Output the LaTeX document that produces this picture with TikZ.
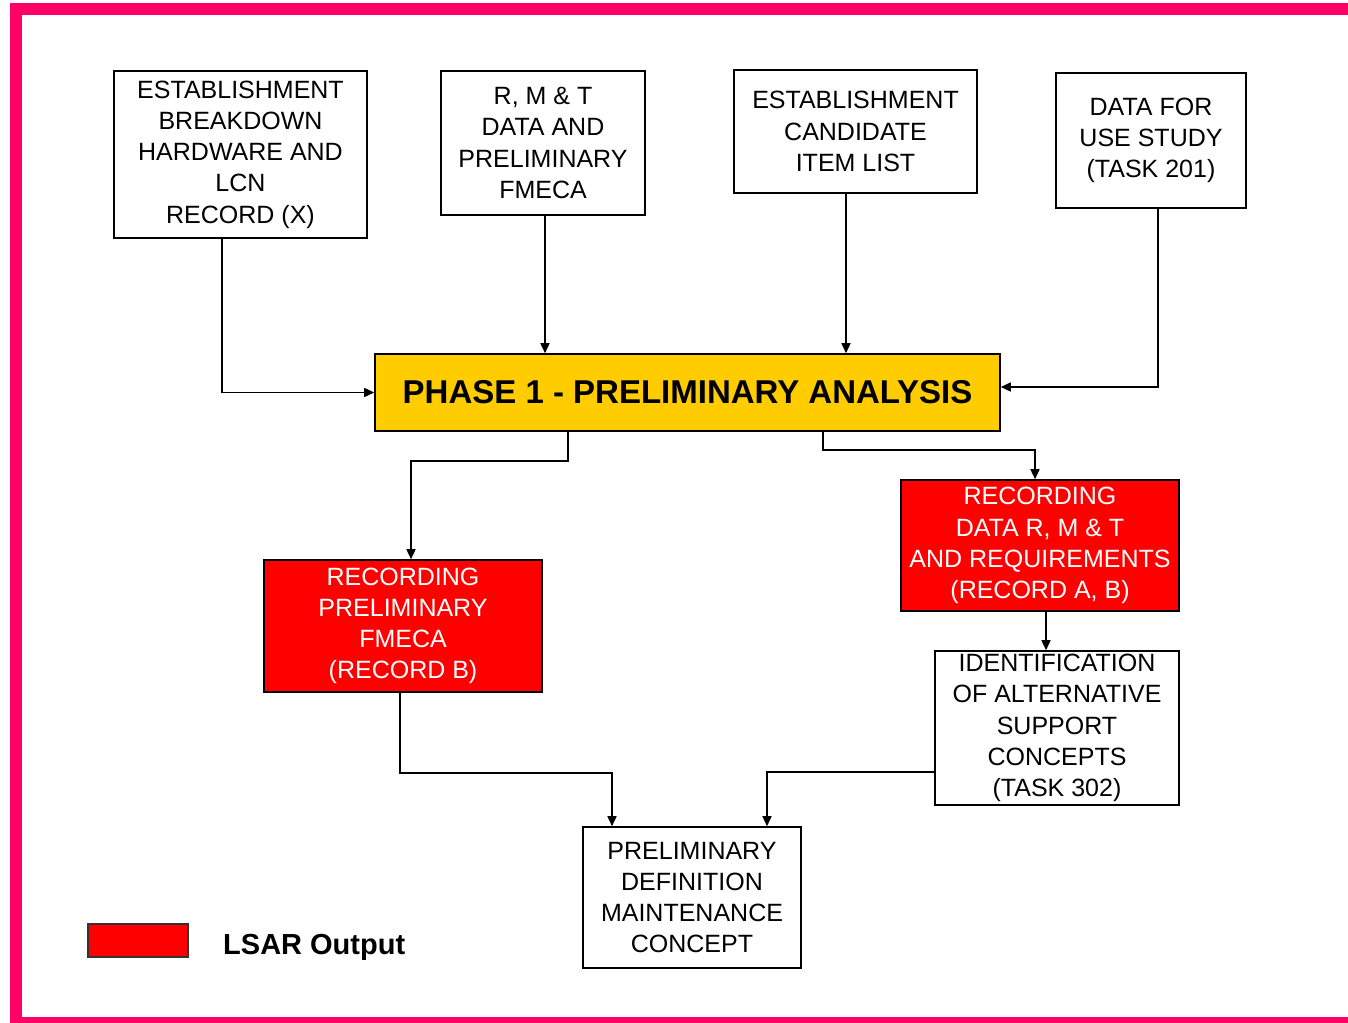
\documentclass[tikz,border=0pt]{standalone}
\usepackage{fontspec}
\setmainfont{Liberation Sans}
\usetikzlibrary{arrows.meta}
\definecolor{framepink}{RGB}{255,0,102}
\definecolor{phaseyellow}{RGB}{255,204,0}
\definecolor{outred}{RGB}{255,0,0}
\begin{document}
\begin{tikzpicture}[x=1pt,y=-1pt,
  box/.style={draw=black,line width=1.6pt,fill=white,inner sep=0pt,align=center,
    font=\fontsize{25}{31.2}\selectfont},
  redbox/.style={box,fill=outred,text=white},
  phasebox/.style={draw=black,line width=1.6pt,fill=phaseyellow,inner sep=0pt,
    font=\bfseries\fontsize{33}{39}\selectfont},
  arr/.style={line width=1.6pt,-{Triangle[length=10pt,width=9pt]}}]
\useasboundingbox (0,0) rectangle (1348,1022);
\begin{scope}
\clip (0,0) rectangle (1348,1022);
\fill[white] (0,0) rectangle (1348,1022);
% outer frame, open past the right edge
\draw[framepink,line width=12pt] (16,9.5) rectangle (1380,1022.5);
\end{scope}

% input boxes
\node[box,minimum width=253,minimum height=167] (b1) at (240.5,154.5)
  {ESTABLISHMENT\\BREAKDOWN\\HARDWARE AND\\LCN\\RECORD (X)};
\node[box,minimum width=204,minimum height=144] (b2) at (543,143)
  {R, M \& T\\DATA AND\\PRELIMINARY\\FMECA};
\node[box,minimum width=243,minimum height=123] (b3) at (855.5,131.5)
  {ESTABLISHMENT\\CANDIDATE\\ITEM LIST};
\node[box,minimum width=190,minimum height=135] (b4) at (1151,140.5)
  {DATA FOR\\USE STUDY\\(TASK 201)};

% central phase box
\node[phasebox,minimum width=625,minimum height=77] (phase) at (687.5,392.5)
  {PHASE 1 - PRELIMINARY ANALYSIS};

% outputs
\node[redbox,minimum width=278,minimum height=132] (r1) at (403,626)
  {RECORDING\\PRELIMINARY\\FMECA\\(RECORD B)};
\node[redbox,minimum width=278,minimum height=131] (r2) at (1040,545.5)
  {RECORDING\\DATA R, M \& T\\AND REQUIREMENTS\\(RECORD A, B)};
\node[box,minimum width=244,minimum height=154] (id) at (1057,728)
  {IDENTIFICATION\\OF ALTERNATIVE\\SUPPORT\\CONCEPTS\\(TASK 302)};
\node[box,minimum width=218,minimum height=141] (pre) at (692,897.5)
  {PRELIMINARY\\DEFINITION\\MAINTENANCE\\CONCEPT};

% legend
\node[draw=black!80,line width=1.6pt,fill=outred,minimum width=100,minimum height=33,inner sep=0pt] (leg) at (138,940.5) {};
\node[anchor=west,inner sep=0pt,font=\bfseries\fontsize{29}{34}\selectfont] (legtext) at (223,947) {LSAR Output};

% connectors into the phase box
\draw[arr] ([xshift=-18.5pt]b1.south) |- (phase.west);
\draw[arr] ([xshift=2pt]b2.south) -- ([xshift=2pt]b2.south |- phase.north);
\draw[arr] ([xshift=-9.5pt]b3.south) -- ([xshift=-9.5pt]b3.south |- phase.north);
\draw[arr] ([xshift=7pt]b4.south) |- ([yshift=5.5pt]phase.east);

% connectors out of the phase box
\draw[arr] ([xshift=-119.5pt]phase.south) -- ++(0,29) -| ([xshift=8pt]r1.north);
\draw[arr] ([xshift=135.5pt]phase.south) -- ++(0,18) -| ([xshift=-5pt]r2.north);
\draw[arr] ([xshift=6pt]r2.south) -- ([xshift=6pt]r2.south |- id.north);

% connectors into the concept box
\draw[arr] ([xshift=-3pt]r1.south) -- ++(0,80) -| ([xshift=-80pt]pre.north);
\draw[arr] ([yshift=-44pt]id.west) -| ([xshift=75pt]pre.north);
\end{tikzpicture}
\end{document}
